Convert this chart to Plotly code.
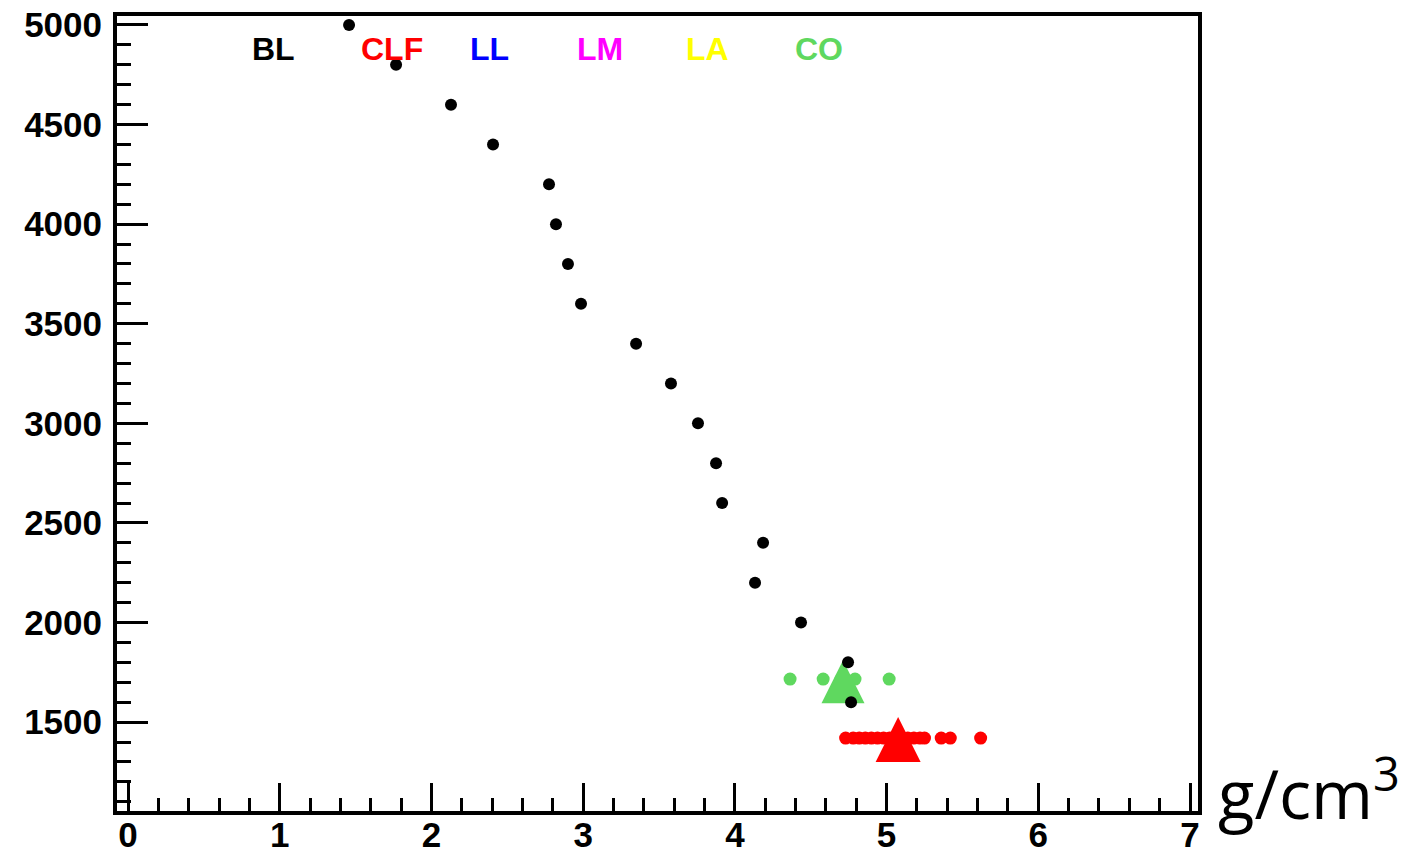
import plotly.graph_objects as go

# Black series (BL): density [g/cm3] vs depth
bl_x = [1.457, 1.767, 2.129, 2.406, 2.775, 2.821, 2.90, 2.986, 3.349, 3.579,
        3.757, 3.876, 3.916, 4.186, 4.133, 4.436, 4.746, 4.766]
bl_y = [5000, 4800, 4600, 4400, 4200, 4000, 3800, 3600, 3400, 3200,
        3000, 2800, 2600, 2400, 2200, 2000, 1800, 1600]

# CLF samples (red) and their mean marker
clf_x = [4.73, 4.78, 4.82, 4.86, 4.90, 4.94, 4.98, 5.02, 5.06, 5.10,
         5.14, 5.18, 5.22, 5.25, 5.36, 5.42, 5.62]
clf_y = [1420] * len(clf_x)
clf_mean_x = [5.076]
clf_mean_y = [1525]

# CO samples (green) and their mean marker
co_x = [4.364, 4.582, 4.70, 4.792, 5.017]
co_y = [1716] * len(co_x)
co_mean_x = [4.713]
co_mean_y = [1810]

# Group labels across the top
label_names = ["BL", "CLF", "LL", "LM", "LA", "CO"]
label_colors = ["black", "#ff0000", "#0000ff", "#ff00ff", "#ffff00", "#5fd85f"]
label_x = [0.956, 1.74, 2.38, 3.11, 3.82, 4.555]
label_y = 4880

GREEN = "#5fd85f"

fig = go.Figure()
fig.add_trace(go.Scatter(x=co_x, y=co_y, mode="markers",
                         marker=dict(color=GREEN, size=13, line=dict(width=0))))
fig.add_trace(go.Scatter(x=co_mean_x, y=co_mean_y, mode="markers",
                         marker=dict(color=GREEN, size=43, symbol="arrow-up",
                                     line=dict(width=0))))
fig.add_trace(go.Scatter(x=clf_x, y=clf_y, mode="markers",
                         marker=dict(color="#ff0000", size=13, line=dict(width=0))))
fig.add_trace(go.Scatter(x=clf_mean_x, y=clf_mean_y, mode="markers",
                         marker=dict(color="#ff0000", size=45, symbol="arrow-up",
                                     line=dict(width=0))))
fig.add_trace(go.Scatter(x=bl_x, y=bl_y, mode="markers",
                         marker=dict(color="black", size=12, line=dict(width=0))))

for name, col, lx in zip(label_names, label_colors, label_x):
    fig.add_annotation(x=lx, y=label_y, xref="x", yref="y", text=name,
                       showarrow=False,
                       font=dict(family="Liberation Sans", size=32, color=col,
                                 weight="bold"))

fig.add_annotation(x=1.0, y=0.0, xref="paper", yref="paper",
                   xanchor="left", yanchor="bottom", xshift=18, yshift=-30,
                   text="g/cm<sup>3</sup>", showarrow=False,
                   font=dict(family="Open Sans", size=67, color="black"))

axis_font = dict(family="Liberation Sans", size=35, color="black", weight="bold")

fig.update_xaxes(range=[-0.0725, 7.0527], tickvals=[0, 1, 2, 3, 4, 5, 6, 7],
                 ticks="inside", ticklen=28, tickwidth=3, tickcolor="black",
                 minor=dict(dtick=0.2, tick0=0, ticks="inside", ticklen=13,
                            tickwidth=3, tickcolor="black"),
                 showline=True, linewidth=4, linecolor="black", mirror=True,
                 showgrid=False, zeroline=False, tickfont=axis_font,
                 ticklabelstandoff=-10, automargin=False)
fig.update_yaxes(range=[1053.7, 5045],
                 tickvals=[1500, 2000, 2500, 3000, 3500, 4000, 4500, 5000],
                 ticks="inside", ticklen=31, tickwidth=3, tickcolor="black",
                 minor=dict(dtick=100, tick0=0, ticks="inside", ticklen=14,
                            tickwidth=3, tickcolor="black"),
                 showline=True, linewidth=4, linecolor="black", mirror=True,
                 showgrid=False, zeroline=False, tickfont=axis_font,
                 ticklabelstandoff=4, automargin=False)

fig.update_layout(width=1405, height=855, showlegend=False,
                  plot_bgcolor="white", paper_bgcolor="white",
                  margin=dict(l=117, r=207, t=16, b=44))

fig.write_html("out.html")
